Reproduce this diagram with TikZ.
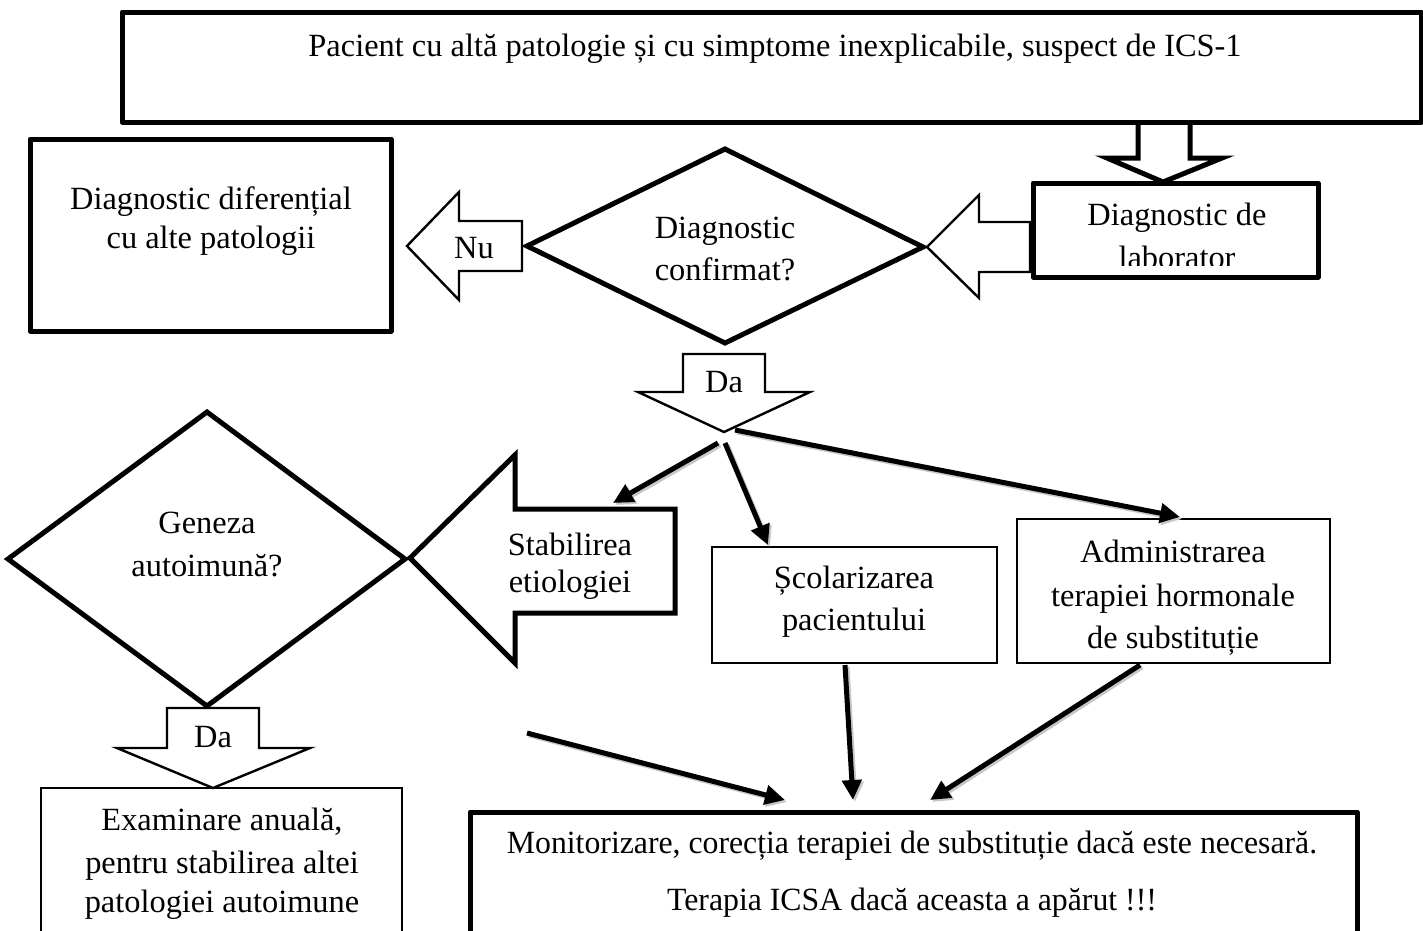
\documentclass[tikz,border=0pt]{standalone}
\usepackage{fontspec}
\setmainfont{Liberation Serif}
\usetikzlibrary{arrows.meta,calc}
\newcommand\myconn[2]{%
  \draw[connshade] ([xshift=2pt,yshift=-2pt]#1) -- ([xshift=2pt,yshift=-2pt]#2);
  \draw[conn] (#1) -- (#2);}
\begin{document}
\begin{tikzpicture}[x=1pt,y=-1pt,
  boldbox/.style={draw,line width=5pt,line join=round,inner sep=0pt},
  thinbox/.style={draw,line width=2.4pt,inner sep=0pt},
  boldshape/.style={draw,line width=5pt,line join=miter},
  thinshape/.style={draw,line width=2.4pt,line join=miter},
  lbl/.style={anchor=base,inner sep=0pt,font=\fontsize{32.4}{38}\selectfont},
  conn/.style={line width=5pt,-{Triangle[length=20pt,width=19pt]}},
  connshade/.style={line width=5pt,draw=black!22,-{Triangle[length=20pt,width=19pt]}}]
\clip (0,0) rectangle (1423,930);
\fill[white] (0,0) rectangle (1423,930);

% top box
\node[boldbox,minimum width=1299pt,minimum height=110pt] (top) at (771.5,67) {};
\node[lbl] (ttop) at (775,56) {Pacient cu altă patologie și cu simptome inexplicabile, suspect de ICS-1};
% hollow arrow down
\draw[boldshape] (1138,122) -- (1138,158) -- (1107,158) -- (1163,182) -- (1222,158) -- (1190,158) -- (1190,122);

% laboratory box
\node[boldbox,minimum width=285pt,minimum height=94pt] (lab) at (1175.5,230) {};
\node[lbl] (tlab1) at (1177,225) {Diagnostic de};
\begin{scope}
\clip (1036,186) rectangle (1315,265);
\node[lbl] (tlab2) at (1177,268) {laborator};
\end{scope}
% hollow arrow lab -> diamond
\draw[thinshape] (1030,222) -- (979,222) -- (979,195) -- (927,247) -- (979,298) -- (979,272) -- (1030,272) -- cycle;

% diamond 1
\draw[boldshape] (527,246) coordinate (d1w) -- (725,149) coordinate (d1n) -- (923,247) coordinate (d1e) -- (725,343) coordinate (d1s) -- cycle;
\node[lbl] (td1a) at (725,238) {Diagnostic};
\node[lbl] (td1b) at (725,280) {confirmat?};

% Nu arrow
\draw[thinshape] (522,221) -- (459,221) -- (459,192) -- (407,246) -- (459,300) -- (459,271) -- (522,271) -- cycle;
\node[lbl] (tnu) at (474,258) {Nu};

% differential box
\node[boldbox,minimum width=361pt,minimum height=192pt] (dif) at (210.5,235) {};
\node[lbl] (tdif1) at (211,209) {Diagnostic diferențial};
\node[lbl] (tdif2) at (211,248) {cu alte patologii};

% Da arrow 1
\draw[thinshape] (683,354) -- (765,354) -- (765,392) -- (810,392) -- (724,432) -- (638,392) -- (683,392) -- cycle;
\node[lbl] (tda1) at (724,392) {Da};

% Stabilirea arrow
\draw[boldshape] (675,509) -- (515,509) -- (515,455) -- (410,558) -- (515,663) -- (515,613) -- (675,613) -- cycle;
\node[lbl] (tst1) at (570,555) {Stabilirea};
\node[lbl] (tst2) at (570,592) {etiologiei};

% Geneza diamond
\draw[boldshape] (8,559) coordinate (d2w) -- (207,412) coordinate (d2n) -- (405,559) coordinate (d2e) -- (207,706) coordinate (d2s) -- cycle;
\node[lbl] (tg1) at (207,533) {Geneza};
\node[lbl] (tg2) at (207,576) {autoimună?};

% Scolarizarea box
\node[thinbox,minimum width=285pt,minimum height=116pt] (scol) at (854.5,605) {};
\node[lbl] (tsc1) at (854,588) {Școlarizarea};
\node[lbl] (tsc2) at (854,630) {pacientului};

% Administrarea box
\node[thinbox,minimum width=313pt,minimum height=144pt] (adm) at (1173.5,591) {};
\node[lbl] (tad1) at (1173,562) {Administrarea};
\node[lbl] (tad2) at (1173,606) {terapiei hormonale};
\node[lbl] (tad3) at (1173,648) {de substituție};

% Da arrow 2
\draw[thinshape] (167,708) -- (259,708) -- (259,748) -- (310,748) -- (213,788) -- (117,748) -- (167,748) -- cycle;
\node[lbl] (tda2) at (213,747) {Da};

% Examinare box
\draw[thinshape] (41,960) -- (41,788) -- (402,788) -- (402,960);
\node[lbl] (tex1) at (222,830) {Examinare anuală,};
\node[lbl] (tex2) at (222,873) {pentru stabilirea altei};
\node[lbl] (tex3) at (222,912) {patologiei autoimune};

% Monitorizare box
\draw[boldshape,line join=round] (470,960) -- (470,812) -- (1357,812) -- (1357,960);
\node[lbl,xscale=0.98] (tm1) at (912,853) {Monitorizare, corecția terapiei de substituție dacă este necesară.};
\node[lbl,xscale=0.98] (tm2) at (912,910) {Terapia ICSA dacă aceasta a apărut !!!};

% connectors
\coordinate (s1) at (718,443); \coordinate (e1) at (613,503);
\coordinate (s2) at (725,443); \coordinate (e2) at (768,545);
\coordinate (s3) at (735,430); \coordinate (e3) at (1180,517);
\coordinate (s4) at (527,733); \coordinate (e4) at (785,800);
\coordinate (s5) at (845,665); \coordinate (e5) at (853,800);
\coordinate (s6) at (1140,665); \coordinate (e6) at (930,800);
\myconn{s1}{e1}
\myconn{s2}{e2}
\myconn{s3}{e3}
\myconn{s4}{e4}
\myconn{s5}{e5}
\myconn{s6}{e6}
\end{tikzpicture}
\end{document}
